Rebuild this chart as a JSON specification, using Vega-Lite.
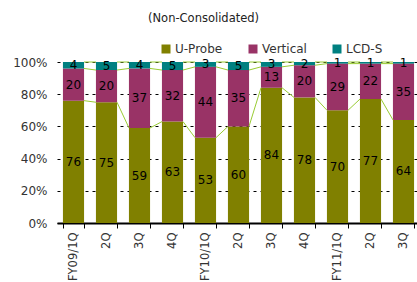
{
  "$schema": "https://vega.github.io/schema/vega-lite/v6.json",
  "width": 360,
  "height": 161,
  "autosize": "none",
  "padding": {"left": 57, "top": 62, "right": 0, "bottom": 59},
  "title": {"text": "(Non-Consolidated)", "anchor": "start", "frame": "group", "dx": 91, "offset": 19, "fontSize": 11.5, "font": "DejaVu Sans", "fontWeight": "normal", "color": "#222222"},
  "config": {
    "view": {"stroke": null},
    "font": "DejaVu Sans",
    "axisY": {
      "title": null, "domain": false, "ticks": false, "labelFontSize": 12, "labelColor": "#333333",
      "labelOverlap": false, "labelPadding": 10, "grid": true, "gridColor": "#000000",
      "gridDash": [3, 4], "gridWidth": 1
    }
  },
  "data": {
    "values": [
      {"q": "FY09/1Q", "U-Probe": 76, "Vertical": 20, "LCD-S": 4},
      {"q": "FY09/2Q", "U-Probe": 75, "Vertical": 20, "LCD-S": 5},
      {"q": "FY09/3Q", "U-Probe": 59, "Vertical": 37, "LCD-S": 4},
      {"q": "FY09/4Q", "U-Probe": 63, "Vertical": 32, "LCD-S": 5},
      {"q": "FY10/1Q", "U-Probe": 53, "Vertical": 44, "LCD-S": 3},
      {"q": "FY10/2Q", "U-Probe": 60, "Vertical": 35, "LCD-S": 5},
      {"q": "FY10/3Q", "U-Probe": 84, "Vertical": 13, "LCD-S": 3},
      {"q": "FY10/4Q", "U-Probe": 78, "Vertical": 20, "LCD-S": 2},
      {"q": "FY11/1Q", "U-Probe": 70, "Vertical": 29, "LCD-S": 1},
      {"q": "FY11/2Q", "U-Probe": 77, "Vertical": 22, "LCD-S": 1},
      {"q": "FY11/3Q", "U-Probe": 64, "Vertical": 35, "LCD-S": 1}
    ]
  },
  "encoding": {
    "x": {
      "field": "q", "type": "nominal", "sort": null,
      "scale": {"range": [0, 363], "paddingInner": 0.36, "paddingOuter": 0.18},
      "axis": {
        "title": null, "labelAngle": -90, "labelFontSize": 11.5, "labelColor": "#333333",
        "labelPadding": 4, "domainColor": "#000000", "domainWidth": 2,
        "tickColor": "#000000", "tickSize": 5, "tickBand": "extent", "grid": false,
        "labelExpr": "indexof(datum.label, '1Q') >= 0 ? datum.label : slice(datum.label, 5)"
      }
    }
  },
  "layer": [
    {
      "transform": [
        {"fold": ["U-Probe", "Vertical", "LCD-S"], "as": ["series", "value"]},
        {"calculate": "indexof(['U-Probe', 'Vertical', 'LCD-S'], datum.series)", "as": "ord"}
      ],
      "layer": [
        {
          "mark": {"type": "bar"},
          "encoding": {
            "y": {
              "field": "value", "type": "quantitative", "stack": "zero",
              "scale": {"domain": [0, 100], "nice": false},
              "axis": {"values": [0, 20, 40, 60, 80, 100], "labelExpr": "datum.value + '%'"}
            },
            "color": {
              "field": "series", "type": "nominal",
              "sort": ["U-Probe", "Vertical", "LCD-S"],
              "scale": {"domain": ["U-Probe", "Vertical", "LCD-S"], "range": ["#808000", "#993366", "#008080"]},
              "legend": {
                "title": null, "orient": "none", "direction": "horizontal",
                "legendX": 103, "legendY": -19, "symbolType": "square", "symbolSize": 81,
                "symbolStrokeWidth": 0, "labelFontSize": 12, "labelColor": "#333333",
                "labelOffset": 3, "columnPadding": 24
              }
            },
            "order": {"field": "ord", "type": "quantitative", "sort": "ascending"}
          }
        },
        {
          "mark": {"type": "text", "fontSize": 12, "color": "#000000"},
          "encoding": {
            "y": {"field": "value", "type": "quantitative", "stack": "zero", "bandPosition": 0.5,
              "axis": {"values": [0, 20, 40, 60, 80, 100], "labelExpr": "datum.value + '%'"}},
            "detail": {"field": "series", "type": "nominal"},
            "order": {"field": "ord", "type": "quantitative", "sort": "ascending"},
            "text": {"field": "value", "type": "quantitative"}
          }
        }
      ]
    },
    {
      "transform": [
        {"calculate": "datum['U-Probe'] + datum['Vertical']", "as": "t1"},
        {"calculate": "100", "as": "t2"},
        {"window": [
          {"op": "lead", "field": "q", "as": "q2"},
          {"op": "lead", "field": "U-Probe", "as": "u2"},
          {"op": "lead", "field": "t1", "as": "t1b"}
        ]},
        {"filter": "datum.q2 != null"}
      ],
      "layer": [
        {
          "mark": {"type": "rule", "color": "#99cc33", "strokeWidth": 1, "xOffset": 10.5, "x2Offset": -10.5},
          "encoding": {
            "x2": {"field": "q2"},
            "y": {"field": "U-Probe", "type": "quantitative",
              "axis": {"values": [0, 20, 40, 60, 80, 100], "labelExpr": "datum.value + '%'"}},
            "y2": {"field": "u2"}
          }
        },
        {
          "mark": {"type": "rule", "color": "#99cc33", "strokeWidth": 1, "xOffset": 10.5, "x2Offset": -10.5},
          "encoding": {
            "x2": {"field": "q2"},
            "y": {"field": "t1", "type": "quantitative",
              "axis": {"values": [0, 20, 40, 60, 80, 100], "labelExpr": "datum.value + '%'"}},
            "y2": {"field": "t1b"}
          }
        },
        {
          "mark": {"type": "rule", "color": "#99cc33", "strokeWidth": 1, "xOffset": 10.5, "x2Offset": -10.5},
          "encoding": {
            "x2": {"field": "q2"},
            "y": {"field": "t2", "type": "quantitative",
              "axis": {"values": [0, 20, 40, 60, 80, 100], "labelExpr": "datum.value + '%'"}},
            "y2": {"field": "t2"}
          }
        }
      ]
    }
  ]
}
